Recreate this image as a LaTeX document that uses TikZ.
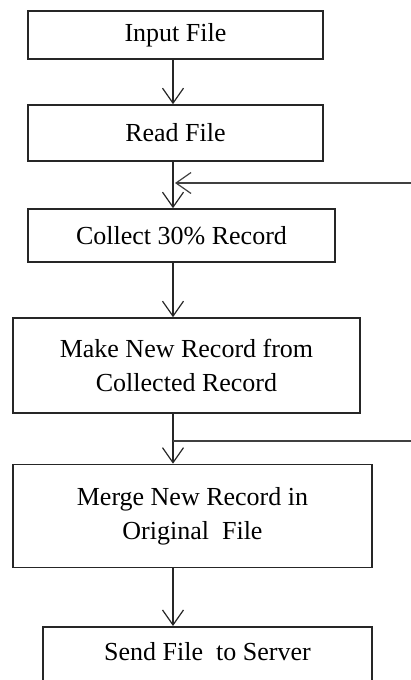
\documentclass[tikz,border=0pt]{standalone}
\usepackage{fontspec}
\setmainfont{Liberation Serif}
\usetikzlibrary{arrows.meta}

\tikzset{
  stepbox/.style={draw=black!85, line width=1.6pt, rectangle, inner sep=0pt,
    align=center, font=\fontsize{26}{34}\selectfont},
  flow/.style={draw=black!85, line width=1.2pt,
    -{Straight Barb[length=15pt, width=21pt, line width=1.2pt]}},
  feed/.style={draw=black!75, line width=1.2pt},
}

\begin{document}
\begin{tikzpicture}[x=1pt, y=-1pt]
  \useasboundingbox (0,0) rectangle (411,680);
  \clip (0,0) rectangle (411,680);

  % vertical axis of the main flow
  \coordinate (axis) at (173,0);

  % process steps
  \node[stepbox, minimum width=295pt, minimum height=48pt] (input) at (175.5,35) {Input File};
  \node[stepbox, minimum width=295pt, minimum height=56pt] (read) at (175.5,133) {Read File};
  \node[stepbox, minimum width=307pt, minimum height=53pt] (collect) at (181.5,235.5) {Collect 30\% Record};
  \node[stepbox, minimum width=347pt, minimum height=95pt] (make) at (186.5,365.5) {Make New Record from\\Collected Record};
  \node[stepbox, minimum width=359pt, minimum height=103pt] (merge) at (192.5,516) {Merge New Record in\\Original\ \ File};
  \node[stepbox, minimum width=329pt, anchor=north, text height=34pt, text depth=70pt] (send) at (207.5,626) {Send File\ \ to Server};

  % loop ends at the right edge
  \coordinate (loopin) at (411,183);
  \coordinate (loopout) at (411,441);

  % main flow
  \draw[flow] (input.south -| axis) -- (read.north -| axis);
  \draw[flow] (read.south -| axis) -- (collect.north -| axis);
  \draw[flow] (collect.south -| axis) -- (make.north -| axis);
  \draw[flow] (make.south -| axis) -- (merge.north -| axis);
  \draw[flow] (merge.south -| axis) -- (send.north -| axis);

  % loop back into the collection step
  \draw[feed, -{Straight Barb[length=15pt, width=21pt, line width=1.2pt]}] (loopin) -- ([xshift=2pt]loopin -| axis);
  \draw[feed] (loopout -| axis) -- (loopout);
\end{tikzpicture}
\end{document}
